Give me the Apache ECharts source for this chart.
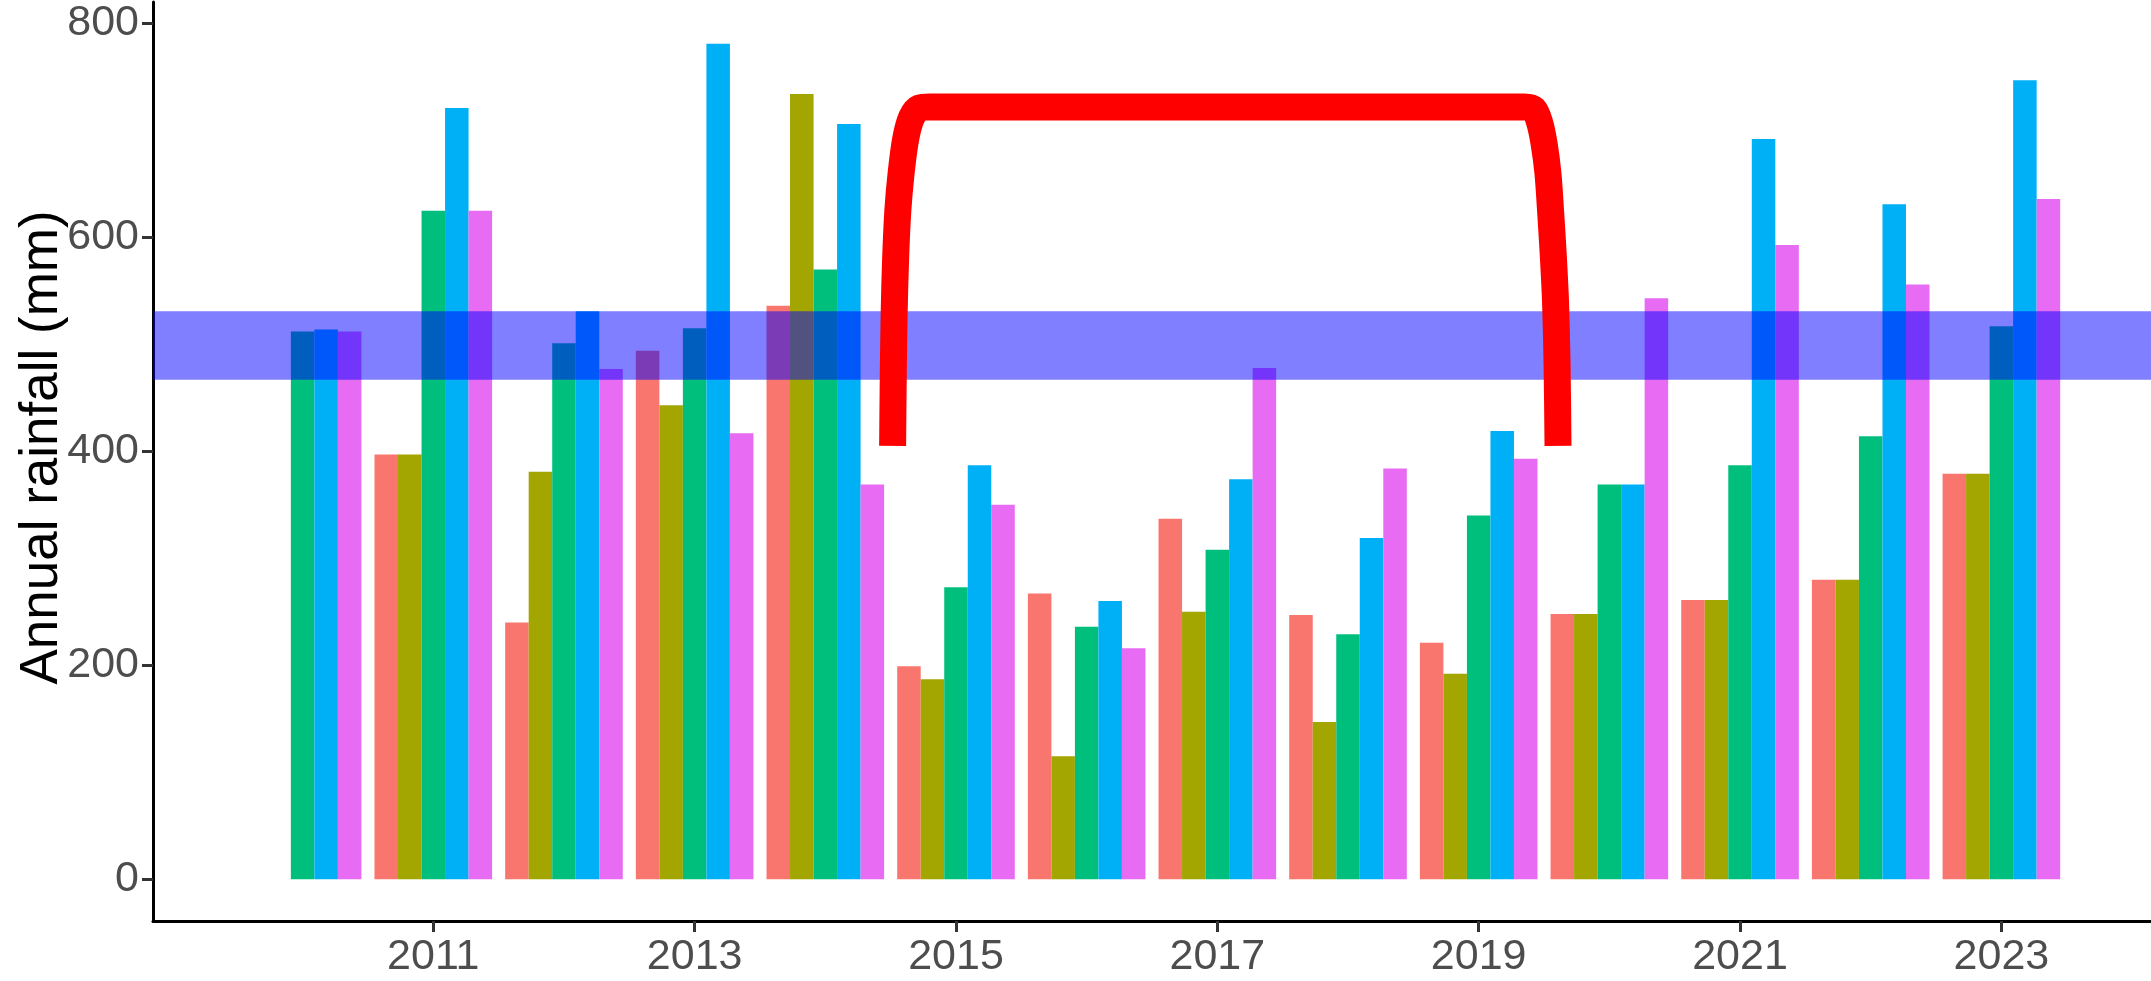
<!DOCTYPE html>
<html>
<head>
<meta charset="utf-8">
<title>Annual rainfall</title>
<script src="https://cdn.jsdelivr.net/npm/echarts@6/dist/echarts.min.js"></script>
<style>
html, body { margin: 0; padding: 0; background: #fff; }
#main { width: 2151px; height: 981px; }
</style>
</head>
<body>
<div id="main"></div>
<script>
// ---- data ----
var years = [2010, 2011, 2012, 2013, 2014, 2015, 2016, 2017, 2018, 2019, 2020, 2021, 2022, 2023];
var tickYears = [2011, 2013, 2015, 2017, 2019, 2021, 2023];
var yTicks = [0, 200, 400, 600, 800];
var groupNames = ['Group 1', 'Group 2', 'Group 3', 'Group 4', 'Group 5'];
var rain1 = [null, 397, 240, 494, 536, 199, 267, 337, 247, 221, 248, 261, 280, 379];
var rain2 = [null, 397, 381, 443, 734, 187, 115, 250, 147, 192, 248, 261, 280, 379];
var rain3 = [512, 625, 501, 515, 570, 273, 236, 308, 229, 340, 369, 387, 414, 517];
var rain4 = [514, 721, 531, 781, 706, 387, 260, 374, 319, 419, 369, 692, 631, 747];
var rain5 = [512, 625, 477, 417, 369, 350, 216, 478, 384, 393, 543, 593, 556, 636];
// shaded band (mm)
var bandRange = [467, 531];
// red bracket path (year, mm)
var bracketX = [2014.515, 2014.520, 2014.527, 2014.538, 2014.555, 2014.580, 2014.615, 2014.660, 2014.720, 2014.800,
  2019.350, 2019.420, 2019.465, 2019.500, 2019.530, 2019.550, 2019.570, 2019.588, 2019.600, 2019.607];
var bracketY = [405, 470, 530, 580, 625, 660, 692, 712, 721, 722,
  722, 720, 708, 688, 660, 625, 585, 540, 480, 405];

var colors = ['#F8766D', '#A3A500', '#00BF7D', '#00B0F6', '#E76BF3'];
var groups = [rain1, rain2, rain3, rain4, rain5];
var font = '"Liberation Sans", Arial, sans-serif';
var xMin = 2008.855, xMax = 2024.145; // ggplot style 5% expansion
var yMin = -39.05, yMax = 820.05;
var dodge = 0.9; // width of one year's group
var slot = dodge / groups.length;

// one custom series per group, dodged like ggplot
function barRenderer(idx) {
  return function (params, api) {
    var yr = api.value(0);
    var v = api.value(1);
    var left = yr - dodge / 2 + idx * slot;
    var p0 = api.coord([left, v]);
    var p1 = api.coord([left + slot, 0]);
    return {
      type: 'rect',
      shape: { x: p0[0], y: p0[1], width: p1[0] - p0[0], height: p1[1] - p0[1] },
      style: { fill: colors[idx] }
    };
  };
}

var series = [];
groups.forEach(function (vals, idx) {
  var data = [];
  years.forEach(function (yr, i) {
    if (vals[i] != null) data.push([yr, vals[i]]);
  });
  series.push({
    name: groupNames[idx],
    type: 'custom',
    renderItem: barRenderer(idx),
    data: data,
    encode: { x: 0, y: 1 },
    z: 2
  });
});

// translucent blue band across the whole panel
series.push({
  type: 'custom',
  data: [[xMin, bandRange[0], xMax, bandRange[1]]],
  encode: { x: [0, 2], y: [1, 3] },
  renderItem: function (params, api) {
    var p0 = api.coord([api.value(0), api.value(3)]);
    var p1 = api.coord([api.value(2), api.value(1)]);
    return {
      type: 'rect',
      shape: { x: p0[0], y: p0[1], width: p1[0] - p0[0], height: p1[1] - p0[1] },
      style: { fill: 'rgba(0,0,255,0.5)' }
    };
  },
  z: 4
});

// red bracket
series.push({
  type: 'line',
  data: bracketX.map(function (x, i) { return [x, bracketY[i]]; }),
  showSymbol: false,
  smooth: 0.3,
  lineStyle: { color: '#FF0000', width: 27, cap: 'butt', join: 'round' },
  z: 5
});

var chart = echarts.init(document.getElementById('main'));
chart.setOption({
  animation: false,
  backgroundColor: '#fff',
  grid: { left: 153, right: 0, top: 2, bottom: 60, outerBoundsMode: 'none' },
  xAxis: {
    type: 'value',
    min: xMin,
    max: xMax,
    axisLine: { onZero: false, lineStyle: { color: '#000', width: 3 } },
    axisTick: { customValues: tickYears, length: 11, lineStyle: { color: '#333', width: 3 } },
    axisLabel: {
      customValues: tickYears,
      margin: 15,
      color: '#4D4D4D',
      fontSize: 43,
      fontFamily: font,
      formatter: function (v) { return String(v); }
    },
    splitLine: { show: false }
  },
  yAxis: {
    type: 'value',
    min: yMin,
    max: yMax,
    name: 'Annual rainfall (mm)',
    nameLocation: 'middle',
    nameGap: 84,
    nameMoveOverlap: false,
    nameTextStyle: { color: '#000', fontSize: 53, fontFamily: font, padding: [0, 0, 0, 28] },
    axisLine: { show: true, onZero: false, lineStyle: { color: '#000', width: 3 } },
    axisTick: { show: true, customValues: yTicks, length: 11, lineStyle: { color: '#333', width: 3 } },
    axisLabel: {
      customValues: yTicks,
      margin: 14,
      color: '#4D4D4D',
      fontSize: 43,
      fontFamily: font
    },
    splitLine: { show: false }
  },
  series: series
});
</script>
</body>
</html>
